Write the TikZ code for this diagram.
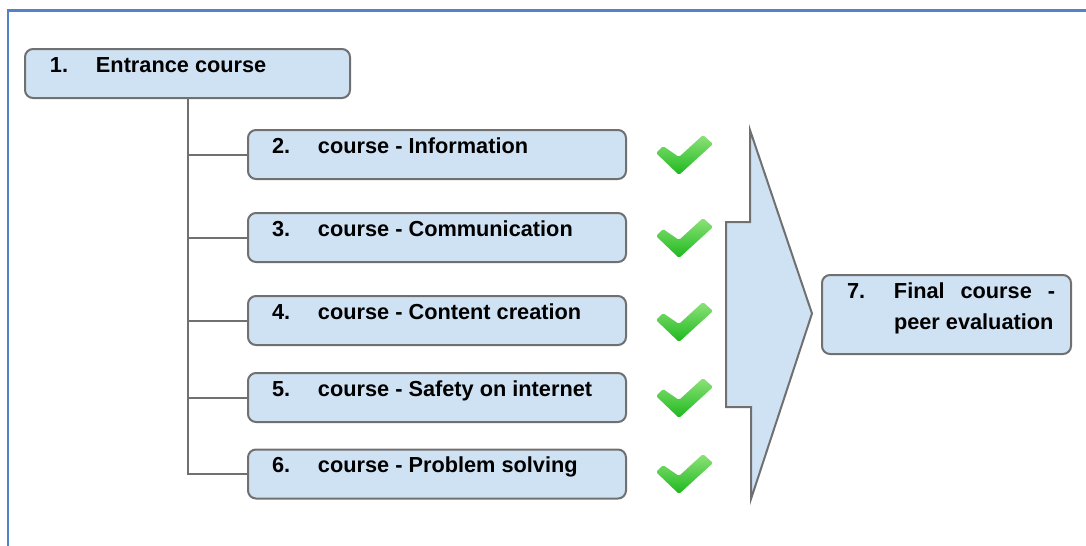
\documentclass[tikz,border=0pt]{standalone}
\usepackage{fontspec}
\setmainfont{Liberation Sans}
\usetikzlibrary{calc}
\definecolor{boxfill}{HTML}{CFE2F3}
\definecolor{boxline}{HTML}{707070}
\definecolor{framecol}{RGB}{84,130,200}
\definecolor{chktop}{HTML}{8EE27A}
\definecolor{chkbot}{HTML}{1DB81D}
\tikzset{
  box/.style={draw=boxline, line width=1.5pt, fill=boxfill, rounded corners=6pt,
    inner sep=0pt, outer sep=0pt, minimum height=36.75pt},
  lbl/.style={inner sep=0pt, outer sep=0pt, anchor=base west, font=\fontsize{16.3}{23}\selectfont\bfseries},
  conn/.style={draw=boxline, line width=1.5pt},
  bigarrow/.style={draw=boxline, line width=1.5pt, fill=boxfill, line join=miter},
  chk/.pic={\path[top color=chktop, bottom color=chkbot, draw=none, rounded corners=1.2pt]
     (-28,-2) -- (-21,-9) -- (-5,2) -- (19,-20) -- (29,-11) -- (-5,20) -- cycle;}
}
\begin{document}
\begin{tikzpicture}[x=0.75pt, y=-0.75pt]
\useasboundingbox (0,0) rectangle (1086,546);
% frame
\draw[framecol, line width=1.6pt] (8,546) -- (8,10.5) -- (1086,10.5);
% boxes
\node[box, minimum width=243.75pt] (b1) at (187.5,73.5) {};
\node[box, minimum width=283.5pt] (b2) at (437,154.5) {};
\node[box, minimum width=283.5pt] (b3) at (437,237.5) {};
\node[box, minimum width=283.5pt] (b4) at (437,320.5) {};
\node[box, minimum width=283.5pt] (b5) at (437,397.5) {};
\node[box, minimum width=283.5pt] (b6) at (437,474) {};
\node[box, minimum width=186.75pt, minimum height=59.25pt] (b7) at (946.5,314.5) {};
% labels
\node[lbl] (l1) at ($(b1.north west)+(25,23)$) {\makebox[34.5pt][l]{1.}Entrance course};
\node[lbl] (l2) at ($(b2.north west)+(24,23)$) {\makebox[34.5pt][l]{2.}course - Information};
\node[lbl] (l3) at ($(b3.north west)+(24,23)$) {\makebox[34.5pt][l]{3.}course - Communication};
\node[lbl] (l4) at ($(b4.north west)+(24,23)$) {\makebox[34.5pt][l]{4.}course - Content creation};
\node[lbl] (l5) at ($(b5.north west)+(24,23)$) {\makebox[34.5pt][l]{5.}course - Safety on internet};
\node[lbl] (l6) at ($(b6.north west)+(24,23)$) {\makebox[34.5pt][l]{6.}course - Problem solving};
\node[lbl] (l7a) at ($(b7.north west)+(25,23)$) {\makebox[35.25pt][l]{7.}\makebox[120.75pt][s]{Final course -}};
\node[lbl] (l7b) at ($(b7.north west)+(72,54)$) {peer evaluation};
% connectors
\draw[conn] (b1.south) |- (b6.west);
\draw[conn] (b1.south |- b2.west) -- (b2.west);
\draw[conn] (b1.south |- b3.west) -- (b3.west);
\draw[conn] (b1.south |- b4.west) -- (b4.west);
\draw[conn] (b1.south |- b5.west) -- (b5.west);
% big arrow
\draw[bigarrow] (750,130) -- (812,313.5) -- (751,499) -- (751,407) -- (726,407) -- (726,222) -- (750,222) -- cycle;
% checks
\pic at (684,155) {chk};
\pic at (684,238) {chk};
\pic at (684,322) {chk};
\pic at (684,398) {chk};
\pic at (684,474) {chk};
\end{tikzpicture}
\end{document}
